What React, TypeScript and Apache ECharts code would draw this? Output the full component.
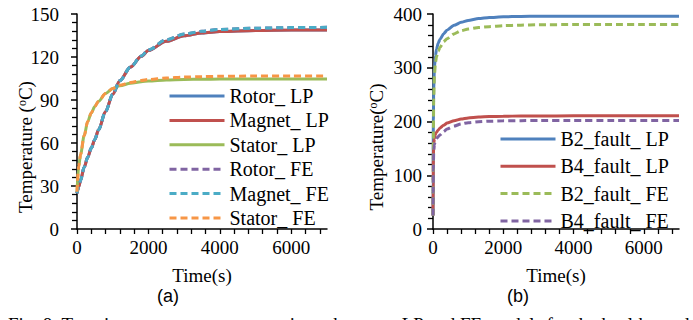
import React, { useEffect, useRef } from "react";
import * as echarts from "echarts";

// ---- Data (a) ----
const timeA = [0, 50, 100, 200, 300, 400, 500, 600, 800, 1000, 1200, 1500, 1800, 2000, 2500, 3000, 3500, 4000, 5000, 6000, 7000];
const rotorLP = [25, 29.5, 34, 43, 50, 56.5, 62.5, 69, 82, 94, 103.5, 113, 120.5, 124.5, 131, 134.8, 136.8, 137.8, 138.5, 138.8, 138.9];
const magnetLP = [25, 29.5, 34, 43, 50, 56.5, 62.5, 69, 82, 94, 103.5, 113, 120.5, 124.5, 131, 134.8, 136.8, 137.8, 138.5, 138.8, 138.9];
const statorLP = [26, 44, 52, 65, 75, 81, 85.5, 89, 94.5, 98, 100, 101.6, 102.7, 103.3, 104, 104.3, 104.5, 104.6, 104.6, 104.7, 104.7];
const rotorFE = [25, 29.5, 34, 43, 50, 56.5, 62.5, 69, 82, 94, 103.5, 113, 120.7, 125, 132, 136, 138, 139.2, 140.1, 140.5, 140.7];
const magnetFE = [25, 29.5, 34, 43, 50, 56.5, 62.5, 69, 82, 94, 103.5, 113, 120.7, 125, 132, 136, 138, 139.2, 140.1, 140.5, 140.7];
const statorFE = [26, 44, 52, 65, 75, 81, 85.5, 89, 94.5, 98, 100.3, 102.2, 103.6, 104.3, 105.3, 106, 106.3, 106.5, 106.7, 106.8, 106.8];

// ---- Data (b) ----
const timeB = [0, 5, 10, 20, 40, 70, 100, 150, 200, 300, 400, 600, 800, 1000, 1300, 1600, 2000, 2500, 3000, 4000, 5000, 6000, 7000];
const b2LP = [25, 120, 200, 260, 300, 322, 335, 346, 353, 363, 370, 379, 384.5, 388, 391.5, 393.5, 394.8, 395.5, 396, 396, 396, 396, 396];
const b4LP = [25, 90, 130, 158, 168, 176, 180, 184, 188, 193, 197, 201.5, 204.5, 206.5, 208.2, 209.2, 209.8, 210.2, 210.4, 210.5, 210.5, 210.5, 210.5];
const b2FE = [25, 100, 170, 240, 285, 310, 320, 331, 338, 348, 354, 363, 369, 372, 375, 376.5, 378.3, 379.3, 380, 380.4, 380.5, 380.5, 380.5];
const b4FE = [25, 70, 110, 145, 157, 164, 168, 172, 175, 181, 186, 191.5, 195.5, 197.8, 199.5, 200.5, 201.2, 201.6, 201.8, 202, 202, 202, 202];

const namesA = ["Rotor_ LP", "Magnet_ LP", "Stator_ LP", "Rotor_ FE", "Magnet_ FE", "Stator_ FE"];
const namesB = ["B2_fault_ LP", "B4_fault_ LP", "B2_fault_ FE", "B4_fault_ FE"];

const yTicksA = { min: 0, max: 150, interval: 30 };
const yTicksB = { min: 0, max: 400, interval: 100 };
const xTicks = { min: 0, max: 7000, labelStep: 2000, tickStep: 400 };

const SERIF = "Liberation Serif";
const SANS = "Liberation Sans";

const pair = (t: number[], v: number[]) => t.map((x, i) => [x, v[i]]);

export default function App() {
  const ref = useRef<HTMLDivElement>(null);
  useEffect(() => {
    if (!ref.current) return;
    const chart = echarts.init(ref.current, null, { renderer: "svg" });

    const xAxisBase = (gridIndex: number) => ({
      type: "value",
      gridIndex,
      min: xTicks.min,
      max: xTicks.max,
      interval: xTicks.tickStep,
      name: "Time(s)",
      nameLocation: "middle",
      nameGap: 37,
      nameTextStyle: { color: "#000", fontFamily: SERIF, fontSize: 19, fontWeight: "normal" },
      splitLine: { show: false },
      axisLine: { show: true, onZero: false, lineStyle: { color: "#000", width: 1.5 } },
      axisTick: { show: true, inside: false, length: 5, lineStyle: { color: "#000", width: 1.3 } },
      axisLabel: {
        margin: 9,
        color: "#000",
        fontFamily: SERIF,
        fontSize: 19,
        showMaxLabel: false,
        formatter: (v: number) => (v % xTicks.labelStep === 0 ? String(v) : ""),
      },
    });

    const yAxisBase = (gridIndex: number, t: any, margin: number) => ({
      type: "value",
      gridIndex,
      min: t.min,
      max: t.max,
      interval: t.interval,
      splitLine: { show: false },
      axisLine: { show: true, lineStyle: { color: "#000", width: 1.5 } },
      axisTick: { show: true, inside: false, length: 6, lineStyle: { color: "#000", width: 1.5 } },
      minorTick: { show: true, splitNumber: 5, length: 5, lineStyle: { color: "#000", width: 1.3 } },
      axisLabel: { margin, color: "#000", fontFamily: SERIF, fontSize: 19 },
    });

    const colorsA = ["#4F81BD", "#C0504D", "#9BBB59", "#8064A2", "#4BACC6", "#F79646"];
    const dataA = [rotorLP, magnetLP, statorLP, rotorFE, magnetFE, statorFE];
    const colorsB = ["#4F81BD", "#C0504D", "#9BBB59", "#8064A2"];
    const dataB = [b2LP, b4LP, b2FE, b4FE];

    const mk = (name: string, color: string, d: number[], t: number[], idx: number, dashed: boolean) => ({
      name,
      type: "line",
      xAxisIndex: idx,
      yAxisIndex: idx,
      data: pair(t, d),
      showSymbol: false,
      symbol: "none",
      smooth: idx === 0 ? 0.3 : 0.2,
      smoothMonotone: "x",
      color,
      lineStyle: { color, width: 3, type: dashed ? [7, 4] : "solid" },
    });

    const series: any[] = [];
    namesA.forEach((n, i) => series.push(mk(n, colorsA[i], dataA[i], timeA, 0, i >= 3)));
    namesB.forEach((n, i) => series.push(mk(n, colorsB[i], dataB[i], timeB, 1, i >= 2)));

    const textEl = (text: string, x: number, y: number, opts: any = {}) => ({
      type: "text",
      x,
      y,
      rotation: opts.rotation || 0,
      style: {
        text,
        fill: "#000",
        fontSize: opts.size || 19,
        fontFamily: opts.family || SERIF,
        fontWeight: "normal",
        align: "center",
        verticalAlign: "middle",
        rich: opts.rich,
      },
    });
    const supRich = {
      sup: { fontSize: 12, fontFamily: SERIF, fontWeight: "normal", verticalAlign: "top", fill: "#000" },
    };

    const legendCommon = {
      orient: "vertical",
      itemWidth: 55,
      itemHeight: 12,
      itemStyle: { opacity: 0 },
      lineStyle: { width: 3 },
      textStyle: { color: "#000", fontFamily: SERIF, fontSize: 20 },
    };

    chart.setOption({
      animation: false,
      backgroundColor: "#fff",
      grid: [
        { left: 77, top: 14, width: 250, height: 215 },
        { left: 433, top: 14, width: 246, height: 215 },
      ],
      xAxis: [xAxisBase(0), xAxisBase(1)],
      yAxis: [yAxisBase(0, yTicksA, 18), yAxisBase(1, yTicksB, 11)],
      legend: [
        { ...legendCommon, data: namesA, left: 163, top: 81, itemGap: 4.4 },
        { ...legendCommon, data: namesB, left: 494, top: 124, itemGap: 7.3 },
      ],
      series,
      graphic: [
        textEl("Temperature ({sup|o}C)", 25, 147, { rotation: Math.PI / 2, rich: supRich }),
        textEl("Temperature({sup|o}C)", 376, 147, { rotation: Math.PI / 2, rich: supRich }),
        textEl("(a)", 168, 296, { family: SANS, size: 18 }),
        textEl("(b)", 518, 296, { family: SANS, size: 18 }),
        {
          type: "text",
          x: 8,
          y: 315,
          style: {
            text: "Fig. 8. Transient temperature comparisons between LP and FE models for the healthy and faulty",
            fill: "#000",
            fontSize: 19,
            fontFamily: SERIF,
            fontWeight: "normal",
            align: "left",
            verticalAlign: "top",
          },
        },
      ],
    });
    return () => chart.dispose();
  }, []);
  return (
    <div
      ref={ref}
      style={{ position: "fixed", left: 0, top: 0, width: 693, height: 320, background: "#fff" }}
    />
  );
}
